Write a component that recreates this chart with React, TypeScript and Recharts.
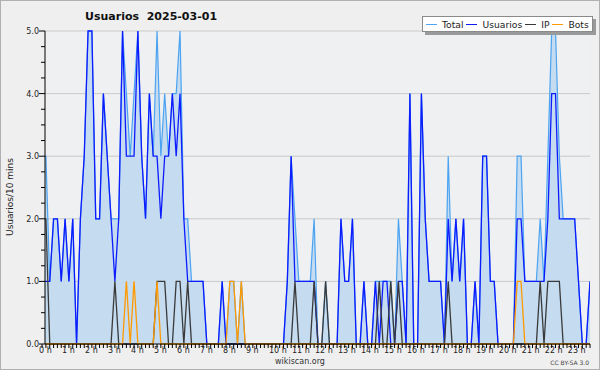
import { Area, CartesianGrid, ComposedChart, Legend, Line, XAxis, YAxis } from "recharts";

// one value per 10-minute slot, 0:00 → 23:50 (12 slots per row = 2 hours)
const TOTAL = [
  3, 3, 1, 2, 2, 1, 2, 1, 2, 0, 2, 3,
  5, 5, 2, 2, 4, 3, 2, 2, 2, 5, 4, 3,
  4, 5, 3, 2, 4, 3, 5, 3, 4, 3, 4, 4,
  5, 2, 2, 1, 1, 1, 1, 0, 0, 0, 0, 1,
  0, 1, 1, 0, 1, 0, 0, 0, 0, 0, 0, 0,
  0, 0, 0, 0, 1, 3, 2, 1, 1, 1, 1, 2,
  0, 0, 1, 0, 0, 0, 2, 1, 1, 2, 0, 0,
  1, 0, 0, 1, 1, 1, 1, 1, 0, 2, 1, 0,
  4, 0, 0, 4, 2, 1, 1, 1, 1, 0, 3, 1,
  2, 1, 2, 0, 0, 1, 0, 3, 3, 1, 1, 0,
  0, 0, 0, 0, 3, 3, 1, 1, 1, 1, 2, 1,
  3, 5, 5, 3, 2, 2, 2, 2, 1, 0, 0, 1,
];

const USUARIOS = [
  1, 1, 1, 2, 2, 1, 2, 1, 2, 0, 2, 3,
  5, 5, 2, 2, 4, 3, 2, 1, 2, 5, 3, 3,
  3, 5, 3, 2, 4, 3, 3, 2, 3, 3, 4, 3,
  4, 2, 1, 1, 1, 1, 1, 0, 0, 0, 0, 1,
  0, 0, 0, 0, 0, 0, 0, 0, 0, 0, 0, 0,
  0, 0, 0, 0, 1, 3, 1, 1, 1, 1, 1, 1,
  0, 0, 0, 0, 0, 0, 2, 1, 1, 2, 0, 0,
  1, 0, 0, 1, 0, 1, 1, 0, 0, 1, 1, 0,
  4, 0, 0, 4, 2, 1, 1, 1, 1, 0, 2, 1,
  2, 1, 2, 0, 0, 1, 0, 3, 3, 1, 1, 0,
  0, 0, 0, 0, 2, 2, 1, 1, 1, 1, 1, 1,
  2, 4, 4, 2, 2, 2, 2, 2, 1, 0, 0, 1,
];

const IP = [
  2, 2, 0, 0, 0, 0, 0, 0, 0, 0, 0, 0,
  0, 0, 0, 0, 0, 0, 0, 1, 0, 0, 0, 0,
  0, 0, 0, 0, 0, 0, 1, 1, 1, 0, 0, 1,
  1, 0, 1, 0, 0, 0, 0, 0, 0, 0, 0, 0,
  0, 0, 0, 0, 0, 0, 0, 0, 0, 0, 0, 0,
  0, 0, 0, 0, 0, 0, 1, 0, 0, 0, 0, 1,
  0, 0, 1, 0, 0, 0, 0, 0, 0, 0, 0, 0,
  0, 0, 0, 0, 1, 0, 0, 1, 0, 1, 0, 0,
  0, 0, 0, 0, 0, 0, 0, 0, 0, 0, 1, 0,
  0, 0, 0, 0, 0, 0, 0, 0, 0, 0, 0, 0,
  0, 0, 0, 0, 0, 0, 0, 0, 0, 0, 1, 0,
  1, 1, 1, 1, 0, 0, 0, 0, 0, 0, 0, 0,
];

const BOTS = [
  0, 0, 0, 0, 0, 0, 0, 0, 0, 0, 0, 0,
  0, 0, 0, 0, 0, 0, 0, 0, 0, 0, 1, 0,
  1, 0, 0, 0, 0, 0, 1, 0, 0, 0, 0, 0,
  0, 0, 0, 0, 0, 0, 0, 0, 0, 0, 0, 0,
  0, 1, 1, 0, 1, 0, 0, 0, 0, 0, 0, 0,
  0, 0, 0, 0, 0, 0, 0, 0, 0, 0, 0, 0,
  0, 0, 0, 0, 0, 0, 0, 0, 0, 0, 0, 0,
  0, 0, 0, 0, 0, 0, 0, 0, 0, 0, 0, 0,
  0, 0, 0, 0, 0, 0, 0, 0, 0, 0, 0, 0,
  0, 0, 0, 0, 0, 0, 0, 0, 0, 0, 0, 0,
  0, 0, 0, 0, 1, 1, 0, 0, 0, 0, 0, 0,
  0, 0, 0, 0, 0, 0, 0, 0, 0, 0, 0, 0,
];

const SLOTS_PER_HOUR = 6;
const X_TICKS = TOTAL.map((_, slot) => slot);
const Y_TICKS = [0, 0.25, 0.5, 0.75, 1, 1.25, 1.5, 1.75, 2, 2.25, 2.5, 2.75, 3, 3.25, 3.5, 3.75, 4, 4.25, 4.5, 4.75, 5];
const GRID_VALUES = [1, 2, 3, 4, 5];

const SERIES = [
  { key: "total", label: "Total", color: "#4ba3f2" },
  { key: "usuarios", label: "Usuarios", color: "#0c1cff" },
  { key: "ip", label: "IP", color: "#3a3a3a" },
  { key: "bots", label: "Bots", color: "#ff9a00" },
];

const FONT = '"DejaVu Sans", sans-serif';

const rows = TOTAL.map((total, slot) => ({
  slot,
  total,
  usuarios: USUARIOS[slot],
  ip: IP[slot],
  bots: BOTS[slot],
}));

function HourTick({ x, y, payload }: any) {
  const slot = payload.value;
  const isHour = slot % SLOTS_PER_HOUR === 0;
  return (
    <g>
      <line x1={x} x2={x} y1={y} y2={y + 4} stroke="#000" />
      {isHour ? (
        <text x={x - 3} y={y + 9} fontSize={8} fontFamily={FONT} fill="#222" textAnchor="start">
          {`${slot / SLOTS_PER_HOUR} h`}
        </text>
      ) : null}
    </g>
  );
}

function ValueTick({ x, y, payload }: any) {
  const value = payload.value;
  const major = Number.isInteger(value);
  return (
    <g>
      <line x1={x - (major ? 6 : 4)} x2={x} y1={y} y2={y} stroke="#000" />
      {major ? (
        <text x={x - 6} y={y + 3} fontSize={8} fontFamily={FONT} fill="#222" textAnchor="end">
          {value.toFixed(1)}
        </text>
      ) : null}
    </g>
  );
}

function LegendBox() {
  return (
    <div
      style={{
        display: "flex",
        alignItems: "center",
        height: 14,
        width: 166,
        background: "#fff",
        border: "1px solid #8a8a8a",
        boxShadow: "3px 3px 0 #9a9a9a",
        fontFamily: FONT,
        fontSize: 9.2,
        color: "#222",
        paddingLeft: 3,
        boxSizing: "content-box",
      }}
    >
      {SERIES.map((s) => (
        <span key={s.key} style={{ display: "flex", alignItems: "center", marginRight: 3 }}>
          <span style={{ display: "inline-block", width: 11, borderTop: `1px solid ${s.color}`, marginRight: 5 }} />
          {s.label}
        </span>
      ))}
    </div>
  );
}

export default function App() {
  return (
    <div style={{ position: "absolute", left: 0, top: 0, width: 600, height: 370, background: "#efefef" }}>
      <ComposedChart width={600} height={370} data={rows} margin={{ top: 31, right: 10, bottom: 0, left: 0 }}>
        <CartesianGrid vertical={false} horizontalValues={GRID_VALUES} stroke="#c9c9c9" fill="#eef0f2" />
        <XAxis
          type="number"
          dataKey="slot"
          domain={[0.76, 143]}
          allowDataOverflow
          ticks={X_TICKS}
          interval={0}
          tick={(props: any) => <HourTick {...props} />}
          tickLine={false}
          tickSize={0}
          tickMargin={0}
          axisLine={{ stroke: "#000" }}
          height={26}
        />
        <YAxis
          type="number"
          domain={[0, 5]}
          ticks={Y_TICKS}
          interval={0}
          tick={(props: any) => <ValueTick {...props} />}
          tickLine={false}
          tickSize={0}
          tickMargin={0}
          axisLine={{ stroke: "#000" }}
          width={45}
        />
        <Legend
          layout="horizontal"
          verticalAlign="middle"
          align="center"
          wrapperStyle={{ top: 16, left: 422, width: "auto" }}
          content={() => <LegendBox />}
        />
        <Area
          type="linear"
          dataKey="total"
          stroke={SERIES[0].color}
          strokeWidth={1.2}
          fill="#c5dcf0"
          fillOpacity={1}
          dot={false}
          activeDot={false}
          isAnimationActive={false}
        />
        {SERIES.slice(1).map((s) => (
          <Line
            key={s.key}
            type="linear"
            dataKey={s.key}
            stroke={s.color}
            strokeWidth={1.3}
            dot={false}
            activeDot={false}
            isAnimationActive={false}
          />
        ))}
      </ComposedChart>
      <svg
        width={600}
        height={370}
        style={{ position: "absolute", left: 0, top: 0, pointerEvents: "none" }}
      >
        <rect x={0.5} y={0.5} width={599} height={369} fill="none" stroke="#b0b0b0" />
        <text x={85} y={20} fontSize={11} fontWeight="bold" fontFamily={FONT} fill="#111" style={{ whiteSpace: "pre" }}>
          {"Usuarios  2025-03-01"}
        </text>
        <text
          transform="translate(13 197) rotate(-90)"
          textAnchor="middle"
          fontSize={9}
          fontFamily={FONT}
          fill="#222"
        >
          Usuarios/10 mins
        </text>
        <text x={300} y={364} textAnchor="middle" fontSize={8} fontFamily={FONT} fill="#333">
          wikiscan.org
        </text>
        <text x={589} y={365} textAnchor="end" fontSize={6} fontFamily={FONT} fill="#444">
          CC BY-SA 3.0
        </text>
      </svg>
    </div>
  );
}
